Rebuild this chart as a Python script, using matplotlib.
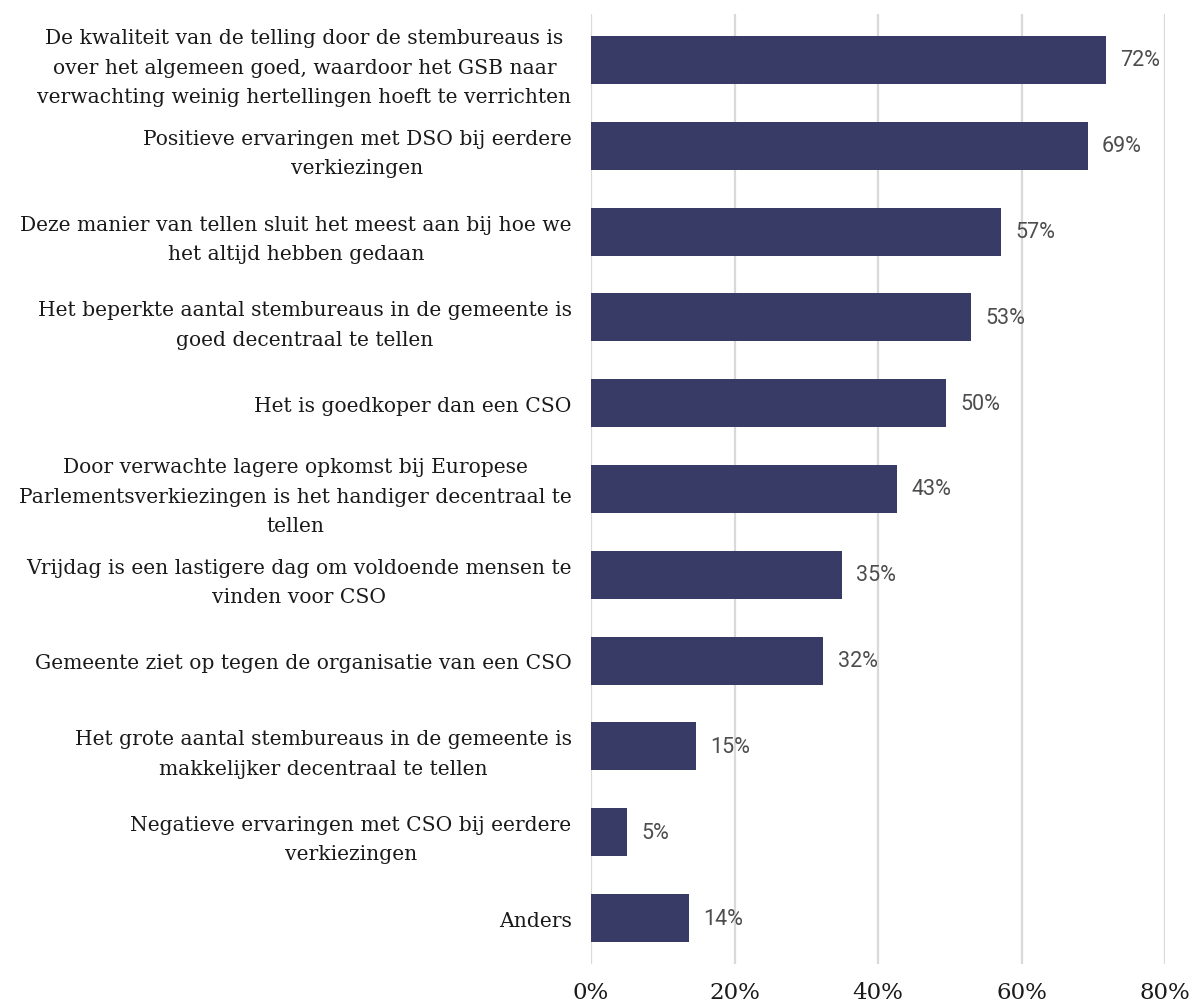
import matplotlib
matplotlib.use("Agg")
import matplotlib.pyplot as plt
from matplotlib.ticker import FuncFormatter

categories = [
    "De kwaliteit van de telling door de stembureaus is\nover het algemeen goed, waardoor het GSB naar\nverwachting weinig hertellingen hoeft te verrichten",
    "Positieve ervaringen met DSO bij eerdere\nverkiezingen",
    "Deze manier van tellen sluit het meest aan bij hoe we\nhet altijd hebben gedaan",
    "Het beperkte aantal stembureaus in de gemeente is\ngoed decentraal te tellen",
    "Het is goedkoper dan een CSO",
    "Door verwachte lagere opkomst bij Europese\nParlementsverkiezingen is het handiger decentraal te\ntellen",
    "Vrijdag is een lastigere dag om voldoende mensen te\nvinden voor CSO",
    "Gemeente ziet op tegen de organisatie van een CSO",
    "Het grote aantal stembureaus in de gemeente is\nmakkelijker decentraal te tellen",
    "Negatieve ervaringen met CSO bij eerdere\nverkiezingen",
    "Anders",
]
values = [0.718, 0.692, 0.572, 0.530, 0.495, 0.427, 0.350, 0.324, 0.146, 0.050, 0.136]
xticks = [0, 0.2, 0.4, 0.6, 0.8]

BAR = "#383b66"
GRID = "#d9d9d9"
SERIF = ["DejaVu Serif"]

fig = plt.figure(figsize=(11.95, 10.04), dpi=100)
ax = fig.add_axes([591/1195, 1-965/1004, (1165-591)/1195, 950/1004])

y = list(range(len(categories)))
ax.barh(y, values, height=0.56, color=BAR, zorder=3)
ax.set_ylim(len(categories) - 1 + 0.536, -0.536)
ax.set_xlim(0, 0.8)
ax.set_xticks(xticks)
ax.xaxis.set_major_formatter(FuncFormatter(lambda v, p: f"{v*100:.0f}%"))
ax.set_yticks(y)
ax.set_yticklabels(categories, fontfamily=SERIF, fontsize=14.6, color="#1a1a1a",
                   multialignment="center", linespacing=1.68)
for lbl in ax.get_xticklabels():
    lbl.set_fontfamily(SERIF)
    lbl.set_fontsize(16.5)
    lbl.set_color("#1a1a1a")
ax.tick_params(axis="y", length=0, pad=14)
ax.tick_params(axis="x", length=0, pad=12)
ax.grid(axis="x", color=GRID, linewidth=1.6, zorder=0)
for s in ax.spines.values():
    s.set_visible(False)

for yi, v in zip(y, values):
    ax.text(v + 0.02, yi, f"{round(v*100):.0f}%", va="center", ha="left",
            fontfamily=["Roboto", "DejaVu Sans"], fontsize=15.5, color="#4d4d4d", zorder=4)

fig.savefig("out.png", dpi=100)
